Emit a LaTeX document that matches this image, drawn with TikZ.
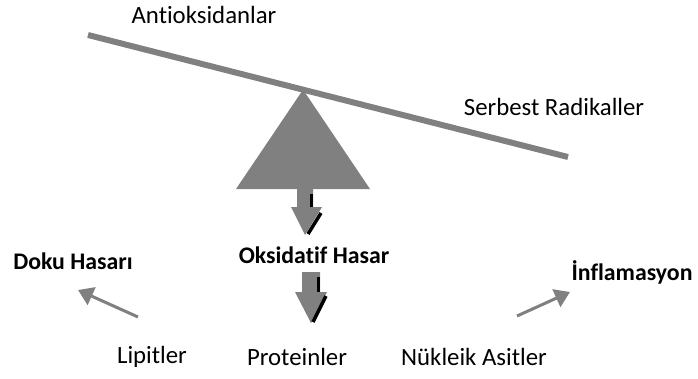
\documentclass[tikz,border=0pt]{standalone}
\usepackage{fontspec}
\setmainfont{Carlito}[Ligatures=NoCommon]
\usetikzlibrary{positioning,calc,arrows.meta}

\definecolor{seesawgray}{RGB}{128,128,128}

\tikzset{
    lbl/.style={font=\fontsize{24.8}{28}\selectfont,inner sep=0pt},
    blbl/.style={font=\bfseries\fontsize{23.8}{27}\selectfont,inner sep=0pt},
    sidearrow/.style={draw=seesawgray,line width=3pt,-{Triangle[length=15pt,width=19pt]}},
}

\begin{document}
\begin{tikzpicture}[x=1pt,y=-1pt]
        \useasboundingbox (0,0) rectangle (698,378);

        % balance
        \coordinate (beamL) at (88,35);
        \coordinate (beamR) at (568,157);
        \draw[seesawgray,line width=6pt] (beamL) -- (beamR) coordinate[pos=0.448](apex);
        \fill[seesawgray] (apex) -- (370,189) -- (236,189) -- cycle;

        \node[lbl](anti) at (204,15){Antioksidanlar};
        \node[lbl](serb) at (554,107){Serbest Radikaller};

        % down arrows
        \fill[seesawgray] (297,189) -- (313,189) -- (313,207) -- (322,207) -- (305,235) -- (291,207) -- (297,207) -- cycle;
        \draw[black,line width=3pt] (311,194) -- (311,207);
        \draw[black,line width=3.5pt] (321,213) -- (308,234);

        \node[blbl](oks) at (314,255){Oksidatif Hasar};

        \fill[seesawgray] (302,272) -- (320,272) -- (320,292) -- (327,292) -- (311,323) -- (295,292) -- (302,292) -- cycle;
        \draw[black,line width=3pt] (318,277) -- (318,292);
        \draw[black,line width=3.5pt] (326,296) -- (313,322);

        % effects
        \node[blbl](doku) at (73,261){Doku Hasarı};
        \node[blbl](infl) at (632,272){İnflamasyon};
        \coordinate (lfoot) at (138,317);
        \coordinate (rfoot) at (517,316);
        \coordinate (ltip) at (78,290);
        \coordinate (rtip) at (570,292);
        \draw[sidearrow] (lfoot) -- (ltip);
        \draw[sidearrow] (rfoot) -- (rtip);

        \node[lbl](lip) at (152,357){Lipitler};
        \node[lbl](prot) at (297,357){Proteinler};
        \node[lbl](nuk) at (474,357){Nükleik Asitler};
    \end{tikzpicture}
\end{document}
